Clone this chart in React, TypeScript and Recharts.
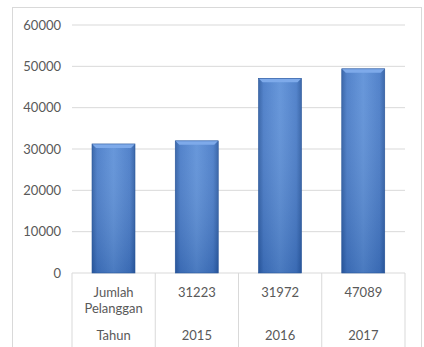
import React from 'react';
import { BarChart, Bar, XAxis, YAxis, CartesianGrid } from 'recharts';

// table under the chart (as drawn in the source)
const rowTop: string[][] = [['Jumlah', 'Pelanggan'], ['31223'], ['31972'], ['47089']];
const rowBottom = ['Tahun', '2015', '2016', '2017'];
// bar heights
const barValues = [31223, 31972, 47089, 49400];
const yTicks = [0, 10000, 20000, 30000, 40000, 50000, 60000];

const chartData = barValues.map((v, i) => ({ key: String(i), value: v }));

const W = 424;
const H = 347;
const PLOT_LEFT = 72;
const PLOT_RIGHT = 405;
const AXIS_TOP = 273;
const BAND = (PLOT_RIGHT - PLOT_LEFT) / barValues.length;
const TEXT = '#595959';
const LINE = '#d9d9d9';
const FONT = 'Lato, "Open Sans", sans-serif';

const TableTick = ({ x, payload, index }: any) => {
  const i = Number(payload?.value ?? index);
  const top = rowTop[i] || [];
  const left = x - BAND / 2;
  return (
    <g>
      <line x1={left} x2={left} y1={AXIS_TOP} y2={H} stroke={LINE} />
      {i === barValues.length - 1 && (
        <line x1={left + BAND} x2={left + BAND} y1={AXIS_TOP} y2={H} stroke={LINE} />
      )}
      {top.map((t, k) => (
        <text key={k} x={x} y={AXIS_TOP + 24 + k * 16} textAnchor="middle" fill={TEXT} fontSize={13} fontFamily={FONT}>
          {t}
        </text>
      ))}
      <text x={x} y={AXIS_TOP + 67} textAnchor="middle" fill={TEXT} fontSize={13} fontFamily={FONT}>
        {rowBottom[i]}
      </text>
    </g>
  );
};

const BevelBar = (props: any) => {
  const { x, y, width, height } = props;
  if (!height || height <= 0) return null;
  const b = 4;
  return (
    <g>
      <rect x={x} y={y} width={width} height={height} fill="url(#barH)" />
      <rect x={x} y={y} width={width} height={height} fill="url(#barV)" />
      <polygon
        points={`${x},${y} ${x + width},${y} ${x + width - b},${y + b} ${x + b},${y + b}`}
        fill="#7eaaea"
      />
      <rect x={x} y={y} width={width} height={height} fill="none" stroke="#2b579a" strokeWidth={0.6} />
    </g>
  );
};

const App: React.FC = () => {
  return (
    <div style={{ position: 'fixed', left: 0, top: 0, width: W, height: H, background: '#fff', overflow: 'hidden' }}>
      <div
        style={{
          position: 'absolute',
          left: 12,
          top: 7,
          width: 410,
          height: 360,
          border: `1px solid ${LINE}`,
          boxSizing: 'border-box',
        }}
      />
      <div style={{ position: 'absolute', left: 0, top: 0 }}>
        <BarChart
          width={W}
          height={H}
          data={chartData}
          margin={{ top: 25, right: W - PLOT_RIGHT, left: 12, bottom: 0 }}
          barSize={43}
        >
          <defs>
            <linearGradient id="barH" x1="0" y1="0" x2="1" y2="0">
              <stop offset="0%" stopColor="#2a5aa2" />
              <stop offset="12%" stopColor="#4478c6" />
              <stop offset="50%" stopColor="#5a8ed7" />
              <stop offset="88%" stopColor="#4478c6" />
              <stop offset="100%" stopColor="#2a5aa2" />
            </linearGradient>
            <linearGradient id="barV" x1="0" y1="0" x2="0" y2="1">
              <stop offset="0%" stopColor="#ffffff" stopOpacity={0.08} />
              <stop offset="100%" stopColor="#1a3f7a" stopOpacity={0.25} />
            </linearGradient>
          </defs>
          <CartesianGrid vertical={false} stroke={LINE} />
          <XAxis
            dataKey="key"
            height={H - AXIS_TOP}
            axisLine={false}
            tickLine={false}
            interval={0}
            tick={<TableTick />}
          />
          <YAxis
            width={60}
            domain={[0, 60000]}
            ticks={yTicks}
            axisLine={false}
            tickLine={false}
            tickMargin={5}
            tick={{ fill: TEXT, fontSize: 13, fontFamily: FONT }}
          />
          <Bar dataKey="value" shape={<BevelBar />} isAnimationActive={false} />
        </BarChart>
      </div>
    </div>
  );
};

export default App;
